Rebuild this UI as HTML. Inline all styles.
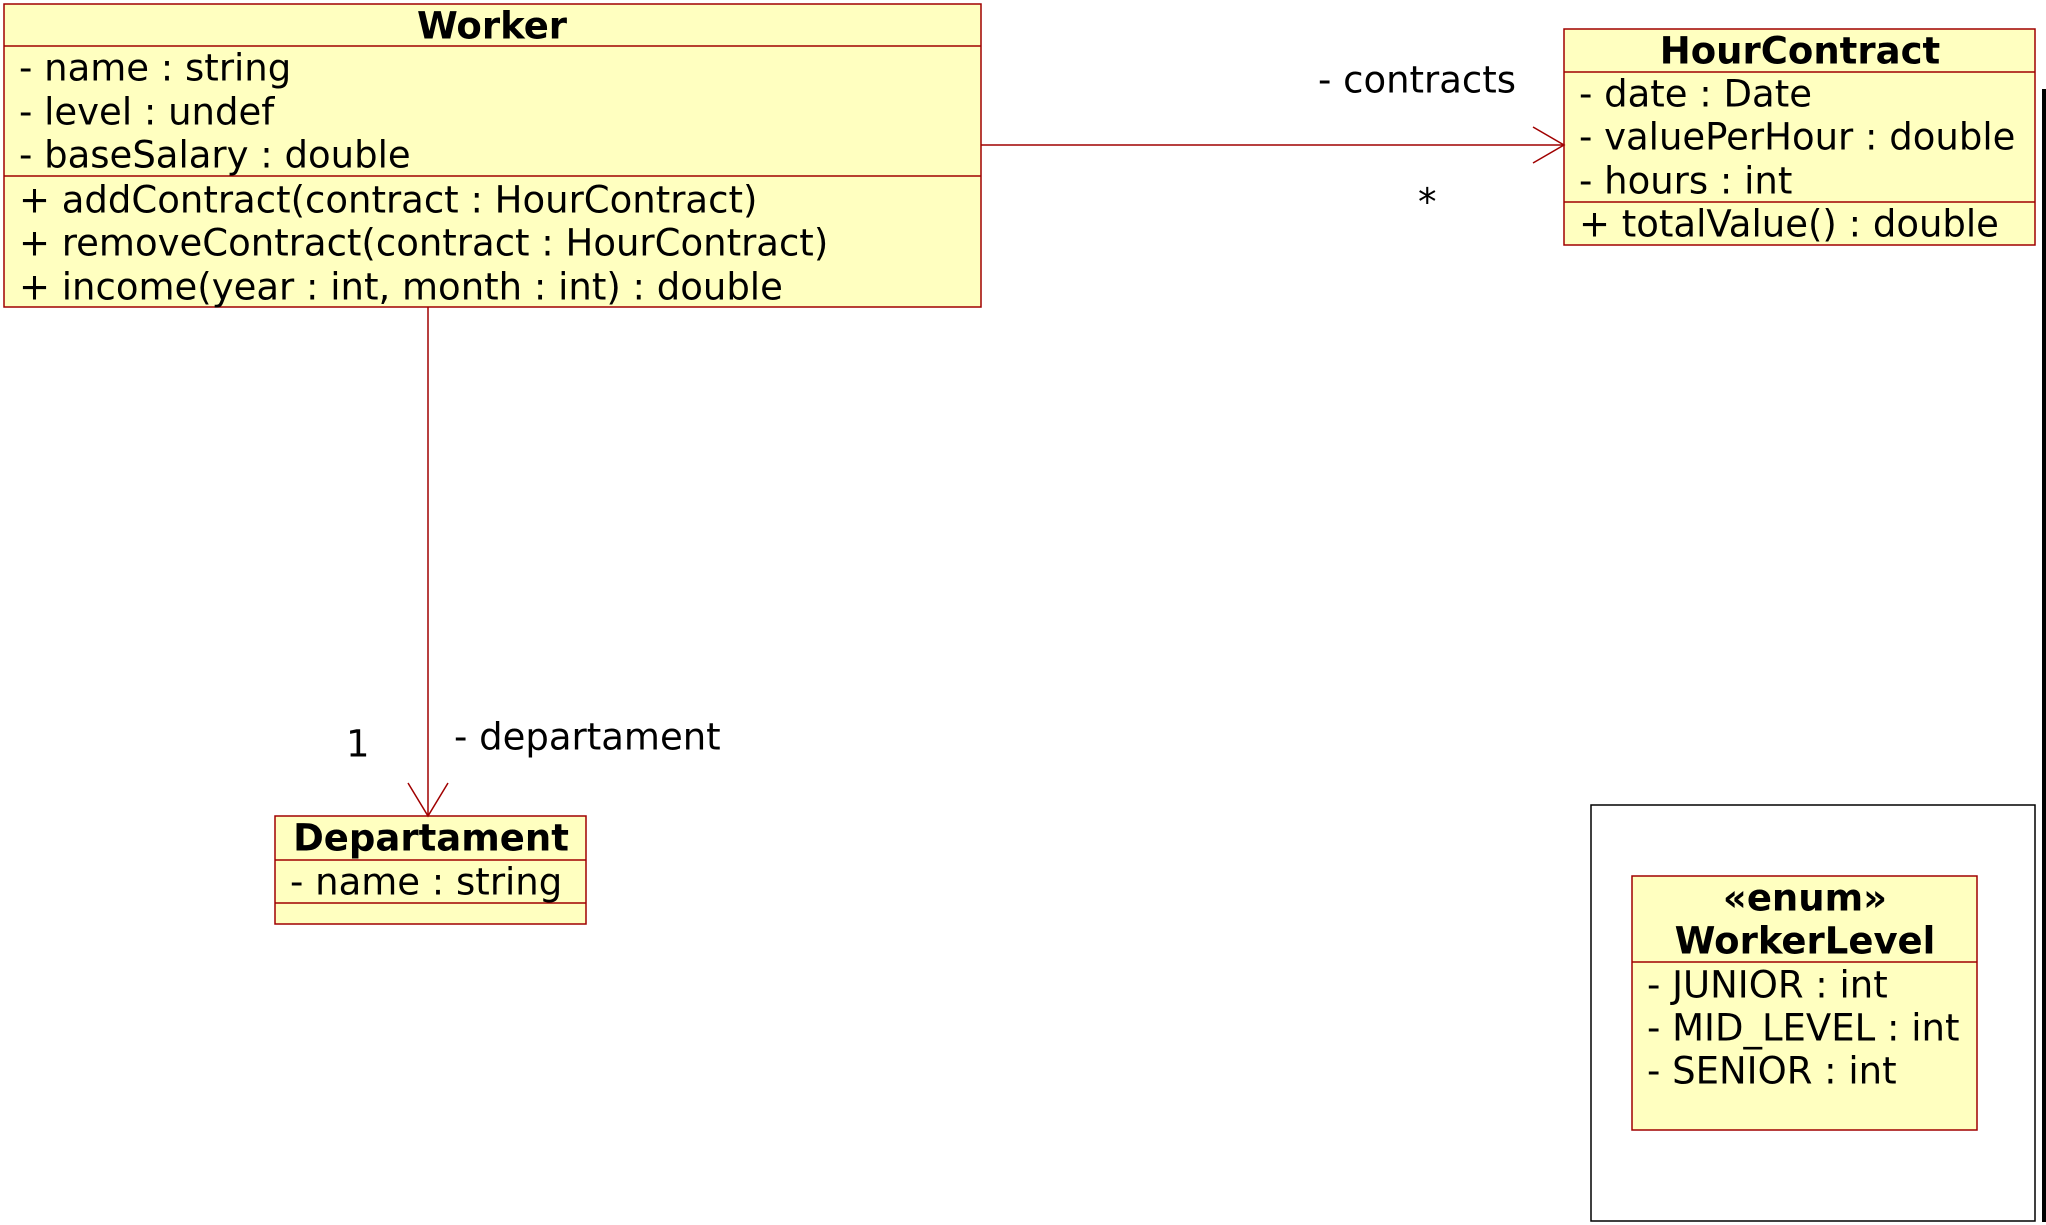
<!DOCTYPE html>
<html><head><meta charset="utf-8"><style>html,body{margin:0;padding:0;background:#fff}svg{display:block}</style></head>
<body>
<svg width="2046" height="1225" viewBox="0 0 2046 1225" xmlns="http://www.w3.org/2000/svg" font-family="DejaVu Sans, Liberation Sans, sans-serif" font-size="37">
<g fill="#ffffc0" stroke="#a00000" stroke-width="1.5">
<rect x="4" y="4" width="977" height="303"/>
<rect x="1564" y="29" width="471" height="216"/>
<rect x="275" y="816" width="311" height="108"/>
<rect x="1632" y="876" width="345" height="254"/>
</g>
<g stroke="#a00000" stroke-width="1.5" fill="none">
<line x1="4" y1="46" x2="981" y2="46"/><line x1="4" y1="176" x2="981" y2="176"/>
<line x1="1564" y1="72" x2="2035" y2="72"/><line x1="1564" y1="202" x2="2035" y2="202"/>
<line x1="275" y1="860" x2="586" y2="860"/><line x1="275" y1="903" x2="586" y2="903"/>
<line x1="1632" y1="962" x2="1977" y2="962"/>
<line x1="981" y1="145" x2="1564" y2="145"/>
<polyline points="1533,127 1564,145 1533,163"/>
<line x1="428" y1="307" x2="428" y2="816"/>
<polyline points="408,783 428,816 448,783"/>
</g>
<rect x="1591" y="805" width="444" height="416" fill="none" stroke="#000" stroke-width="1.5"/>
<rect x="2042" y="89" width="4" height="1133" fill="#000"/>
<g dominant-baseline="central">
<text x="492" y="26" font-weight="bold" text-anchor="middle">Worker</text>
<text x="19" y="68">- name : string</text>
<text x="19" y="112">- level : undef</text>
<text x="19" y="155">- baseSalary : double</text>
<text x="19" y="200">+ addContract(contract : HourContract)</text>
<text x="19" y="243">+ removeContract(contract : HourContract)</text>
<text x="19" y="287">+ income(year : int, month : int) : double</text>
<text x="1800" y="51" font-weight="bold" text-anchor="middle">HourContract</text>
<text x="1579" y="94">- date : Date</text>
<text x="1579" y="137">- valuePerHour : double</text>
<text x="1579" y="181">- hours : int</text>
<text x="1579" y="224">+ totalValue() : double</text>
<text x="1318" y="80">- contracts</text>
<text x="1418" y="202">*</text>
<text x="346" y="744">1</text>
<text x="454" y="737">- departament</text>
<text x="431" y="838" font-weight="bold" text-anchor="middle">Departament</text>
<text x="290" y="882">- name : string</text>
<text x="1805" y="898" font-weight="bold" text-anchor="middle">«enum»</text>
<text x="1805" y="941" font-weight="bold" text-anchor="middle">WorkerLevel</text>
<text x="1647" y="985">- JUNIOR : int</text>
<text x="1647" y="1028">- MID_LEVEL : int</text>
<text x="1647" y="1071">- SENIOR : int</text>
</g>
</svg>
</body></html>
